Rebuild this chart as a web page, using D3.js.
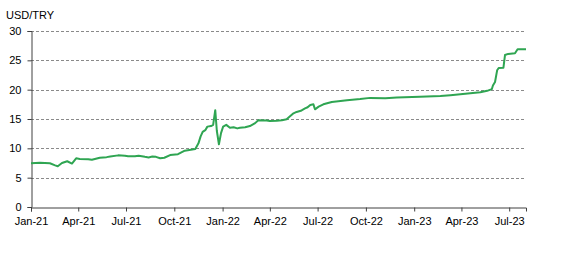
<!DOCTYPE html>
<html>
<head>
<meta charset="utf-8">
<script src="https://cdn.jsdelivr.net/npm/d3@7"></script>
<style>
  body { margin: 0; background: #fff; }
  #chart { width: 568px; height: 268px; }
  text { font-family: "Liberation Sans", Arial, sans-serif; }
</style>
</head>
<body>
<div id="chart"></div>
<script>

// data (USD/TRY, approx.)
const dates = [
    "2021-01-01", "2021-01-18", "2021-02-06", "2021-02-16", "2021-02-21", "2021-03-01",
    "2021-03-11", "2021-03-20", "2021-03-28", "2021-04-04", "2021-04-20", "2021-04-27",
    "2021-05-12", "2021-05-25", "2021-06-01", "2021-06-16", "2021-06-29", "2021-07-05",
    "2021-07-18", "2021-07-25", "2021-08-06", "2021-08-13", "2021-08-20", "2021-08-27",
    "2021-09-04", "2021-09-12", "2021-09-23", "2021-10-08", "2021-10-21", "2021-11-10",
    "2021-11-16", "2021-11-20", "2021-11-24", "2021-11-29", "2021-12-03", "2021-12-10",
    "2021-12-14", "2021-12-18", "2021-12-21", "2021-12-25", "2021-12-29", "2022-01-02",
    "2022-01-08", "2022-01-15", "2022-01-22", "2022-01-29", "2022-02-03", "2022-02-13",
    "2022-02-22", "2022-03-04", "2022-03-10", "2022-03-26", "2022-04-01", "2022-04-14",
    "2022-04-24", "2022-05-03", "2022-05-10", "2022-05-15", "2022-05-22", "2022-05-30",
    "2022-06-07", "2022-06-12", "2022-06-17", "2022-06-23", "2022-06-26", "2022-07-03",
    "2022-07-12", "2022-07-28", "2022-08-26", "2022-09-20", "2022-10-09", "2022-11-07",
    "2022-11-29", "2023-01-12", "2023-02-20", "2023-03-11", "2023-04-18", "2023-05-07",
    "2023-05-20", "2023-05-29", "2023-05-31", "2023-06-04", "2023-06-08", "2023-06-11",
    "2023-06-20", "2023-06-23", "2023-06-29", "2023-07-12", "2023-07-17", "2023-08-02"
];
const usdtry = [
    7.45, 7.55, 7.45, 7.1, 6.95, 7.5,
    7.8, 7.4, 8.3, 8.2, 8.15, 8.05,
    8.4, 8.5, 8.6, 8.8, 8.75, 8.65,
    8.65, 8.75, 8.55, 8.45, 8.6, 8.55,
    8.3, 8.4, 8.85, 9.0, 9.6, 9.9,
    10.85, 12.0, 12.8, 13.1, 13.7, 13.8,
    14.0, 16.5, 13.0, 10.7, 12.6, 13.7,
    14.0, 13.5, 13.6, 13.4, 13.5, 13.6,
    13.8, 14.3, 14.8, 14.75, 14.65, 14.7,
    14.8, 14.95, 15.5, 15.9, 16.2, 16.4,
    16.8, 17.0, 17.4, 17.5, 16.65, 17.1,
    17.5, 17.9, 18.2, 18.4, 18.6, 18.55,
    18.65, 18.8, 18.9, 19.05, 19.4, 19.55,
    19.8, 20.1, 20.7, 21.3, 23.3, 23.7,
    23.75, 25.9, 26.1, 26.2, 26.9, 26.9
];
const yTicks = [0, 5, 10, 15, 20, 25, 30];
const yTitle = "USD/TRY";

const parse = d3.timeParse("%Y-%m-%d");
const series = dates.map((d, i) => ({ date: parse(d), value: usdtry[i] }));

// layout
const width = 568, height = 268;
const plotLeft = 31, plotRight = 526, plotTop = 31, plotBottom = 207;

const svg = d3.select("#chart")
    .append("svg")
    .attr("width", width)
    .attr("height", height);

const x = d3.scaleTime()
    .domain([parse("2021-01-01"), parse("2023-08-02")])
    .range([plotLeft, plotRight]);

const y = d3.scaleLinear()
    .domain([0, 30])
    .range([plotBottom, plotTop]);

// dashed grid lines
svg.append("g")
    .selectAll("line")
    .data(yTicks.filter(d => d > 0))
    .enter().append("line")
    .attr("x1", plotLeft)
    .attr("x2", plotRight)
    .attr("y1", d => Math.round(y(d)) + 0.5)
    .attr("y2", d => Math.round(y(d)) + 0.5)
    .style("stroke", "#8a8a8a")
    .style("stroke-width", 1)
    .style("stroke-dasharray", "3,2");

// x axis
const xAxis = svg.append("g")
    .attr("transform", `translate(0, ${Math.round(plotBottom) + 0.5})`)
    .call(d3.axisBottom(x)
        .ticks(d3.timeMonth.every(3))
        .tickFormat(d3.timeFormat("%b-%y"))
        .tickSizeOuter(0)
        .tickSize(4)
        .tickPadding(6));

// y axis
const yAxis = svg.append("g")
    .attr("transform", `translate(${plotLeft + 0.5}, 0)`)
    .call(d3.axisLeft(y)
        .tickValues(yTicks)
        .tickSizeOuter(0)
        .tickSize(4)
        .tickPadding(6));

[xAxis, yAxis].forEach(a => {
    a.select(".domain").style("stroke", "#404040");
    a.selectAll(".tick line").style("stroke", "#404040");
    a.selectAll("text")
        .style("font-size", "11px")
        .style("fill", "#000");
});

// the line
const line = d3.line()
    .x(d => x(d.date))
    .y(d => y(d.value));

svg.append("path")
    .datum(series)
    .attr("d", line)
    .style("fill", "none")
    .style("stroke", "#2fa552")
    .style("stroke-width", 2)
    .style("stroke-linejoin", "round");

// title
svg.append("text")
    .attr("x", 6)
    .attr("y", 19)
    .style("font-size", "11px")
    .text(yTitle);

</script>
</body>
</html>
